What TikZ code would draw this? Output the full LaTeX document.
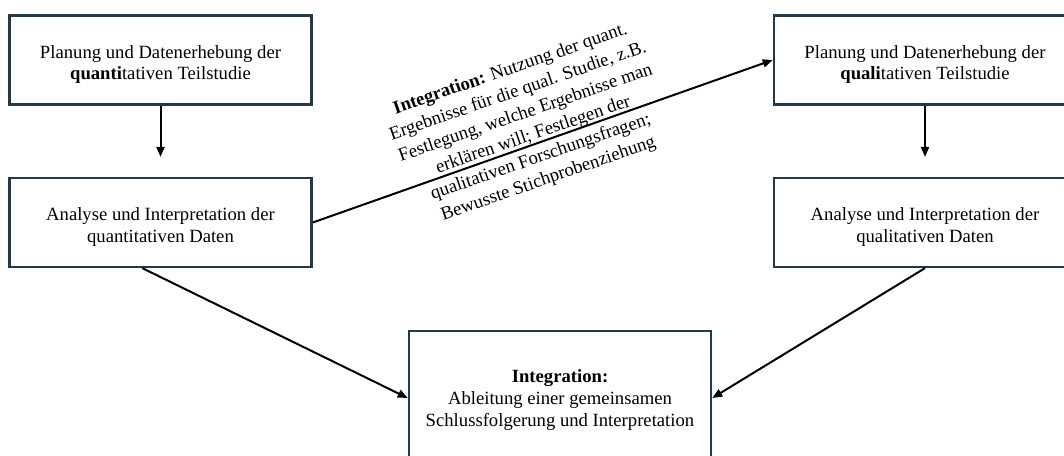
\documentclass[tikz,border=0pt]{standalone}
\usepackage{fontspec}
\setmainfont{Liberation Serif}
\usetikzlibrary{arrows.meta,calc}
\definecolor{boxline}{HTML}{203A4C}
\newcommand{\boxtext}[2]{\raisebox{-#1}[\height][\depth]{\begin{tabular}{@{}c@{}}#2\end{tabular}}}
\begin{document}
\begin{tikzpicture}[x=0.75pt,y=-0.75pt,
  font=\fontsize{14}{16.3}\selectfont,
  stagebox/.style={draw=boxline,line width=1.9pt,fill=white,
    minimum width=226.5pt,minimum height=66.5pt,inner sep=0pt},
  conn/.style={line width=1.5pt,-{Triangle[length=7.5pt,width=6pt]}}]
\useasboundingbox (0,0) rectangle (1064,455);
\node[stagebox] (q1) at (160.5,60) {\boxtext{3.4pt}{Planung und Datenerhebung der\\\textbf{quanti}tativen Teilstudie}};
\node[stagebox] (q2) at (160.5,222.5) {\boxtext{3.4pt}{Analyse und Interpretation der\\quantitativen Daten}};
\node[stagebox] (l1) at (925,60) {\boxtext{3.4pt}{Planung und Datenerhebung der\\\textbf{quali}tativen Teilstudie}};
\node[stagebox] (l2) at (925,222.5) {\boxtext{3.4pt}{Analyse und Interpretation der\\qualitativen Daten}};
\node[stagebox,minimum height=100.5pt] (res) at (560,398) {\boxtext{1.5pt}{\textbf{Integration:}\\Ableitung einer gemeinsamen\\Schlussfolgerung und Interpretation}};
\coordinate (t1) at ($(q2.north)+(0,-20)$);
\coordinate (t2) at ($(l2.north)+(0,-20)$);
\coordinate (s2) at ($(q2.south west)!0.44!(q2.south east)$);
\draw[conn] (q1.south) -- (t1);
\draw[conn] (l1.south) -- (t2);
\draw[conn] (q2.east) -- (l1.west);
\draw[conn] (s2) -- (res.west);
\draw[conn] (l2.south) -- (res.east);
\node[rotate=19.1,align=center,inner sep=0pt,font=\fontsize{14}{17.4}\selectfont] (lbl) at (529.5,124.5)
  {\textbf{Integration:} Nutzung der quant.\\Ergebnisse für die qual. Studie, z.B.\\Festlegung, welche Ergebnisse man\\erklären will; Festlegen der\\qualitativen Forschungsfragen;\\Bewusste Stichprobenziehung};
\end{tikzpicture}
\end{document}
